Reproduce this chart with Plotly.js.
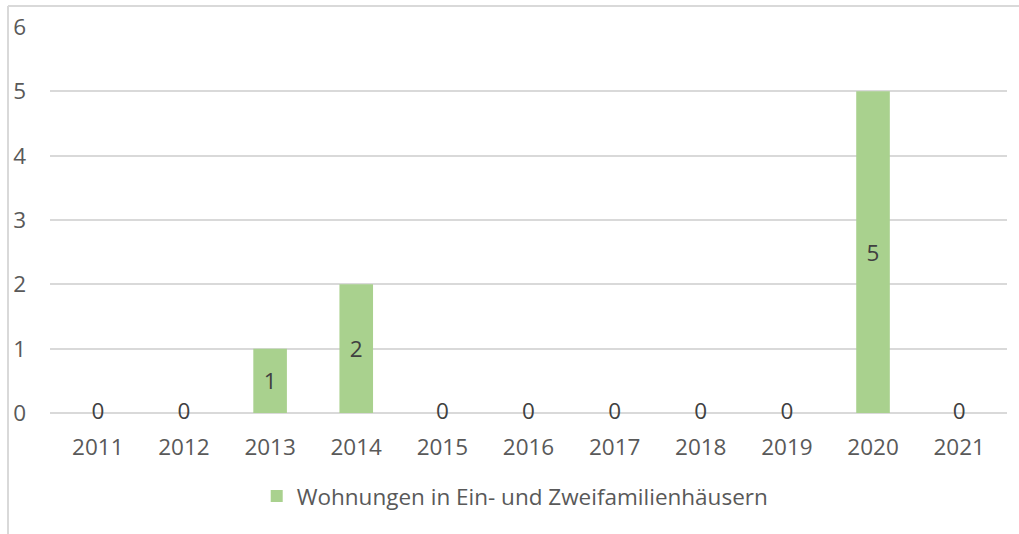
<!DOCTYPE html>
<html>
<head>
<meta charset="utf-8">
<script src="https://cdn.plot.ly/plotly-3.0.1.min.js"></script>
<style>html,body{margin:0;padding:0;background:#fff;}#chart{width:1019px;height:534px;}</style>
</head>
<body>
<div id="chart"></div>
<script>
const years = ['2011','2012','2013','2014','2015','2016','2017','2018','2019','2020','2021'];
const values = [0,0,1,2,0,0,0,0,0,5,0];
const seriesName = 'Wohnungen in Ein- und Zweifamilienhäusern';
const yTicks = [0,1,2,3,4,5,6];

const FONT = 'Open Sans, Noto Sans, sans-serif';
const FS = 22.5;
const nonZeroText = values.map(v => v !== 0 ? String(v) : '');
const zeroX = years.filter((y,i) => values[i] === 0);
const zeroY = values.filter(v => v === 0);

const traces = [
  {
    type: 'bar', x: years, y: values, name: seriesName,
    marker: {color: '#A9D18E'}, width: 0.39,
    text: nonZeroText, textposition: 'inside', insidetextanchor: 'middle',
    textfont: {family: FONT, size: FS, color: '#404040'}, hoverinfo: 'x+y'
  },
  {
    type: 'scatter', mode: 'text', x: zeroX, y: zeroY, text: zeroY.map(String),
    textposition: 'middle center', showlegend: false, cliponaxis: false,
    textfont: {family: FONT, size: FS, color: '#404040'}, hoverinfo: 'skip'
  }
];

const layout = {
  width: 1019, height: 534,
  margin: {l: 50, r: 12, t: 27, b: 121, autoexpand: false},
  paper_bgcolor: '#fff', plot_bgcolor: '#fff',
  font: {family: FONT, size: FS, color: '#595959'},
  bargap: 0.61,
  xaxis: {type: 'category', showgrid: false, zeroline: false, showline: false, ticks: '', automargin: false,
          tickfont: {family: FONT, size: FS, color: '#595959'}, ticklabelstandoff: 18},
  yaxis: {range: [0, 6], tickvals: yTicks, showgrid: true, gridcolor: '#D9D9D9', gridwidth: 2,
          zeroline: true, zerolinecolor: '#D9D9D9', zerolinewidth: 2, showline: false, ticks: '',
          ticklabelstandoff: 23, automargin: false,
          tickfont: {family: FONT, size: FS, color: '#595959'}},
  showlegend: true,
  legend: {orientation: 'h', x: 0.216, xanchor: 'left', y: -0.16, yanchor: 'top',
           font: {family: FONT, size: FS, color: '#595959'}, itemwidth: 30},
  shapes: [
    {type: 'line', xref: 'paper', yref: 'paper', x0: -0.0439, x1: 1.02, y0: 1.0544, y1: 1.0544,
     line: {color: '#D9D9D9', width: 2}},
    {type: 'line', xref: 'paper', yref: 'paper', x0: -0.0439, x1: -0.0439, y0: 1.0544, y1: -0.32,
     line: {color: '#D9D9D9', width: 2}}
  ]
};

Plotly.newPlot('chart', traces, layout, {displayModeBar: false, staticPlot: true});
</script>
</body>
</html>
